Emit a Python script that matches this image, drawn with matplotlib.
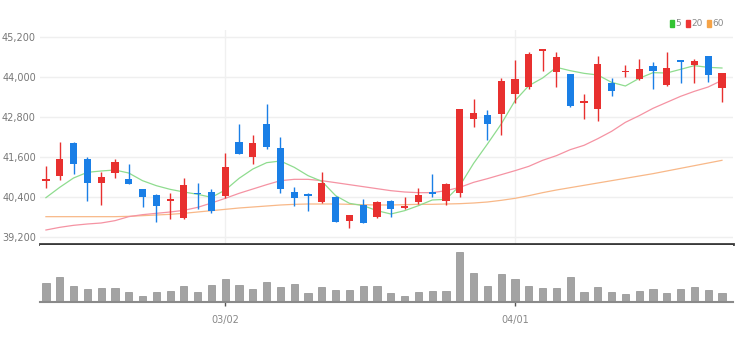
import numpy as np
import matplotlib.pyplot as plt
from matplotlib.patches import Patch

plt.rcParams['font.family'] = ['Liberation Sans Narrow', 'DejaVu Sans']

# daily OHLC (KRW)
opens = [40890, 41040, 42040, 41560, 40840, 41140, 40950, 40650, 40470, 40300,
         39770, 40520, 40560, 40440, 42070, 41600, 42590, 41870, 40560, 40490,
         40250, 40420, 39700, 40170, 39820, 40280, 40090, 40270, 40550, 40290,
         40540, 42750, 42870, 42900, 43500, 43700, 44800, 44170, 44100, 43220,
         43040, 43840, 44150, 43950, 44350, 43770, 44500, 44370, 44650, 43670]
highs = [41350, 42070, 42060, 41620, 41150, 41550, 41390, 40660, 40490, 40520,
         40970, 40840, 40650, 41740, 42590, 42270, 43190, 42200, 40700, 40540,
         41170, 40450, 39880, 40350, 40290, 40320, 40400, 40670, 41100, 40840,
         43060, 43340, 43020, 43990, 44520, 44750, 44850, 44750, 44100, 43500,
         44650, 43970, 44370, 44550, 44450, 44750, 44500, 44550, 44650, 44120]
lows = [40670, 40910, 41100, 40300, 40180, 40970, 40790, 40120, 39670, 39750,
        39750, 40040, 39920, 40390, 41690, 41400, 41850, 40540, 40140, 39990,
        40240, 39660, 39470, 39630, 39770, 39820, 40040, 40200, 40420, 40170,
        40420, 42500, 42120, 42270, 43220, 43640, 44190, 43720, 43100, 42740,
        42700, 43450, 44000, 43920, 43650, 43750, 43840, 43820, 43850, 43270]
closes = [40950, 41560, 41400, 40830, 41020, 41470, 40810, 40420, 40150, 40340,
          40770, 40490, 39990, 41320, 41700, 42020, 41920, 40640, 40370, 40450,
          40820, 39670, 39870, 39640, 40270, 40040, 40140, 40470, 40500, 40790,
          43050, 42920, 42600, 43890, 43950, 44700, 44840, 44600, 43140, 43290,
          44400, 43600, 44200, 44250, 44200, 44290, 44470, 44500, 44070, 44120]

# moving averages as shown
ma5 = [40390, 40700, 40980, 41150, 41190, 41220, 41130, 40900, 40750, 40640,
       40560, 40490, 40400, 40620, 40970, 41250, 41440, 41490, 41300, 41050,
       40880, 40450, 40220, 40150, 40000, 39900, 40000, 40150, 40320, 40340,
       40750, 41420, 42000, 42600, 43300, 43750, 43980, 44300, 44200, 44120,
       44070, 43850, 43740, 43970, 44140, 44130, 44240, 44350, 44300, 44280]
ma20 = [39420, 39500, 39560, 39600, 39630, 39700, 39820, 39880, 39920, 39960,
        40010, 40100, 40230, 40370, 40520, 40650, 40780, 40900, 40940, 40940,
        40900, 40840, 40780, 40720, 40660, 40600, 40560, 40540, 40540, 40600,
        40700, 40850, 40960, 41080, 41200, 41330, 41510, 41650, 41830, 41960,
        42160, 42380, 42650, 42850, 43070, 43250, 43430, 43580, 43710, 43910]
ma60 = [39820, 39820, 39820, 39820, 39820, 39820, 39830, 39850, 39870, 39890,
        39920, 39960, 40000, 40040, 40080, 40110, 40140, 40170, 40190, 40200,
        40200, 40200, 40190, 40180, 40170, 40170, 40180, 40190, 40190, 40200,
        40210, 40230, 40260, 40310, 40370, 40450, 40540, 40620, 40690, 40760,
        40830, 40900, 40970, 41040, 41110, 41190, 41270, 41350, 41430, 41510]

volume = [57, 77, 49, 39, 44, 44, 30, 19, 30, 35,
          49, 30, 52, 70, 52, 40, 62, 45, 56, 29,
          45, 36, 36, 50, 48, 29, 19, 31, 34, 34,
          152, 89, 48, 84, 71, 50, 43, 43, 76, 30,
          45, 30, 24, 35, 39, 29, 41, 45, 36, 27]

price_ticks = [39200, 40400, 41600, 42800, 44000, 45200]
date_ticks = [13, 34]
date_labels = ['03/02', '04/01']

UP = '#e8302f'
DOWN = '#1a7fe6'

o = np.array(opens); c = np.array(closes)
h = np.array(highs); l = np.array(lows)
x = np.arange(len(o))
colors = np.where(c >= o, UP, DOWN)

fig = plt.figure(figsize=(7.45, 3.4), dpi=100)
ax = fig.add_axes([40/745, 1-244/340, 693/745, 214/340])
axv = fig.add_axes([40/745, 1-302.3/340, 693/745, 57.3/340])

# grid
for t in price_ticks:
    ax.axhline(t, color='#efefef', lw=1, zorder=0)
for t in date_ticks:
    ax.axvline(t, color='#f0f0f0', lw=1, zorder=0)

# moving averages
ax.plot(x, ma60, color='#f8b888', lw=0.9, zorder=1)
ax.plot(x, ma20, color='#f593a3', lw=0.9, zorder=1)
ax.plot(x, ma5, color='#8fdc8f', lw=0.9, zorder=1)

# candles
ax.vlines(x, l, h, colors=colors, lw=1, zorder=2)
body = np.maximum(np.abs(c - o), 45)
ax.bar(x, body, bottom=np.minimum(o, c), width=0.52, color=colors, zorder=3)

ax.set_xlim(-0.43, 49.8)
ax.set_ylim(39000, 45420)
ax.set_yticks(price_ticks)
ax.set_yticklabels([f'{v:,}' for v in price_ticks])
ax.tick_params(axis='y', length=0, labelsize=7, colors='#777777', pad=3)
ax.set_xticks([])
for s in ['top', 'left', 'right']:
    ax.spines[s].set_visible(False)
ax.spines['bottom'].set_color('#3a3a3a')
ax.spines['bottom'].set_linewidth(2)

handles = [Patch(color='#33c433', label='5'),
           Patch(color='#ee3535', label='20'),
           Patch(color='#f5a347', label='60')]
leg = ax.legend(handles=handles, loc='lower right', bbox_to_anchor=(0.99, 1.0),
                ncol=3, frameon=False, fontsize=6.5, handlelength=0.45,
                handleheight=0.8, handletextpad=0.2, columnspacing=0.45,
                borderaxespad=0.0, borderpad=0.2)
for t in leg.get_texts():
    t.set_color('#888888')

# volume
axv.bar(x, volume, width=0.52, color='#a3a3a3', edgecolor='#8f8f8f', lw=0.5)
axv.set_xlim(-0.43, 49.8)
axv.set_ylim(0, 172)
axv.set_yticks([])
axv.set_xticks(date_ticks)
axv.set_xticklabels(date_labels)
axv.tick_params(axis='x', length=3, width=1, colors='#555555', labelsize=7,
                labelcolor='#888888', pad=6)
for s in ['top', 'left', 'right']:
    axv.spines[s].set_visible(False)
axv.spines['bottom'].set_color('#8a8a8a')
axv.spines['bottom'].set_linewidth(1.5)

fig.savefig('out.png', dpi=100)
